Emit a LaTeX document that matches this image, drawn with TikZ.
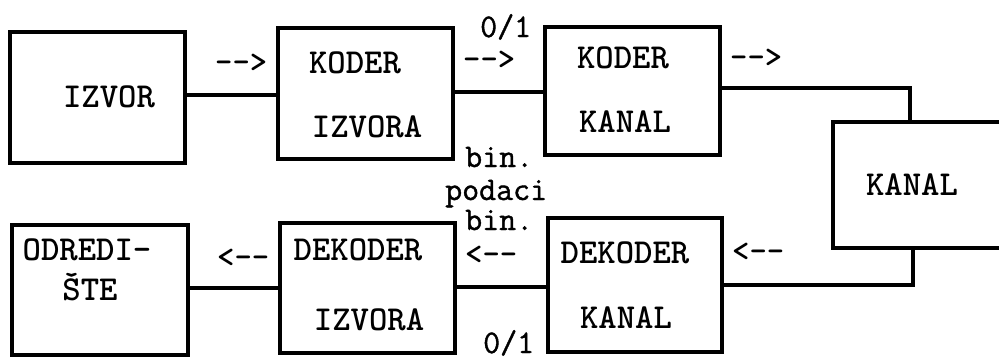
\documentclass[tikz,border=0pt]{standalone}
\usepackage{fontspec}
\setmonofont{Latin Modern Mono}
% heavy typewriter face for the block captions, medium one for the labels
\newfontfamily\ttteska{lmmonolt10-bold.otf}
\newfontfamily\ttsrednja{Latin Modern Mono}[FakeBold=1.2]
\begin{document}
\begin{tikzpicture}[x=1pt,y=-1pt,
  blok/.style={draw,line width=3.6pt,inner sep=0pt,minimum width=175pt},
  natpis/.style={font=\fontsize{35}{40}\selectfont\ttteska,inner sep=0pt,anchor=base},
  oznaka/.style={font=\fontsize{33}{38}\selectfont\ttsrednja,inner sep=0pt,anchor=base west},
  strelica/.style={font=\fontsize{33}{38}\selectfont\ttteska,inner sep=0pt,anchor=west},
  veza/.style={line width=3.4pt}]
\useasboundingbox (0,0) rectangle (999,362);
\clip (0,0) rectangle (999,362);

% blocks of the transmission chain
\node[blok,minimum height=131pt] (izvor) at (97.5,97.5) {};
\node[blok,minimum height=131pt] (kodizv) at (365.5,93.5) {};
\node[blok,minimum height=128pt] (kodkan) at (632.5,91) {};
\node[blok,minimum width=207pt,minimum height=126pt] (kanal) at (936.5,185) {};
\node[blok,minimum width=176pt,minimum height=130pt] (odred) at (100,290) {};
\node[blok,minimum height=130pt] (dekizv) at (367.5,288) {};
\node[blok,minimum width=174pt,minimum height=134pt] (dekkan) at (635,285) {};

% block captions
\node[natpis] (t1) at (109,107.5) {IZVOR};
\node[natpis] (t2) at (355,73) {KODER};
\node[natpis] (t3) at (367,137.5) {IZVORA};
\node[natpis] (t4) at (623,68.5) {KODER};
\node[natpis] (t5) at (625,132) {KANAL};
\node[natpis] (t6) at (912,195) {KANAL};
\node[natpis] (t7) at (87,260.5) {ODREDI-};
\node[natpis] (t8) at (90,300.5) {ŠTE};
\node[natpis] (t9) at (358,260.5) {DEKODER};
\node[natpis] (t10) at (369,330.5) {IZVORA};
\node[natpis] (t11) at (625,263) {DEKODER};
\node[natpis] (t12) at (626,328.5) {KANAL};

% connecting lines
\coordinate (y1) at (0,95);
\coordinate (y2) at (0,92);
\coordinate (ulaz) at (910,88);
\coordinate (izlaz) at (913,285);
\coordinate (y3) at (0,287);
\coordinate (y4) at (0,288);
\draw[veza] (izvor.east |- y1) -- (kodizv.west |- y1);
\draw[veza] (kodizv.east |- y2) -- (kodkan.west |- y2);
\draw[veza] (kodkan.east |- ulaz) -| (kanal.north -| ulaz);
\draw[veza] (kanal.south -| izlaz) |- (dekkan.east |- izlaz);
\draw[veza] (dekkan.west |- y3) -- (dekizv.east |- y3);
\draw[veza] (dekizv.west |- y4) -- (odred.east |- y4);

% direction marks
\node[strelica] (s1) at (215,63) {-{}->};
\node[strelica] (s2) at (463,60) {-{}->};
\node[strelica] (s3) at (730,58) {-{}->};
\node[strelica] (s4) at (217,258) {<{}-{}-};
\node[strelica] (s5) at (465,255) {<{}-{}-};
\node[strelica] (s6) at (732,252) {<{}-{}-};

% data labels
\node[oznaka] (l1) at (480,37) {0/1};
\node[oznaka] (l2) at (465,167) {bin.};
\node[oznaka] (l3) at (445,200) {podaci};
\node[oznaka] (l4) at (465,230) {bin.};
\node[oznaka] (l5) at (483,353) {0/1};
\end{tikzpicture}
\end{document}
